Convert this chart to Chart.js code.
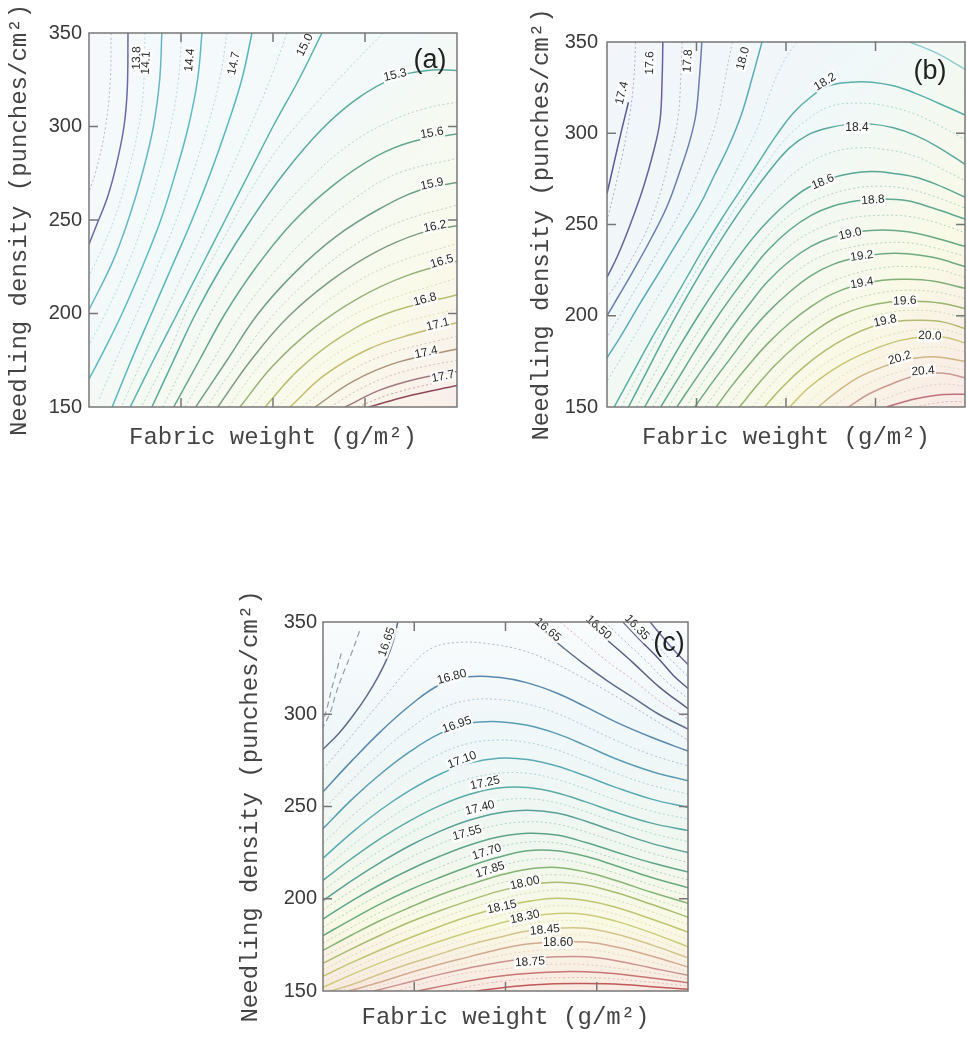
<!DOCTYPE html>
<html>
<head>
<meta charset="utf-8">
<script src="https://cdn.jsdelivr.net/npm/chart.js@4.4.1/dist/chart.umd.min.js"></script>
<style>
  html, body { margin: 0; padding: 0; background: #fff; }
  body { width: 967px; height: 1039px; position: relative; overflow: hidden; }
  canvas { position: absolute; }
</style>
</head>
<body>
<canvas id="ca" width="480" height="460" style="left:0;top:0"></canvas>
<canvas id="cb" width="477" height="460" style="left:490px;top:0"></canvas>
<canvas id="cc" width="480" height="469" style="left:220px;top:570px"></canvas>
<script>
// x = fabric weight, as % of the plotted range (no tick values shown)
// y = needling density (punches/cm2)
var X_TITLE = 'Fabric weight (g/m\u00b2)';
var Y_TITLE = 'Needling density (punches/cm\u00b2)';

// ---- panel (a) ----
var aLevels = [13.8, 14.1, 14.4, 14.7, 15.0, 15.3, 15.6, 15.9, 16.2, 16.5, 16.8, 17.1, 17.4, 17.7, 18.0];
var aLines = [
  [[10.6,350],[10.4,320],[9.5,300],[7.5,280],[5,262],[2.2,248],[0,237]],
  [[19.8,350],[19.2,325],[17.5,300],[14.5,275],[11,252],[6.5,228],[0,202]],
  [[30.7,350],[29.5,325],[27,300],[23.5,275],[19.5,250],[14.5,225],[9,200],[3.5,178],[0,165]],
  [[44.3,350],[41.5,325],[37.5,300],[33,275],[28,250],[22.5,225],[17,200],[11.5,175],[6.3,150]],
  [[63.3,350],[57,325],[50,300],[43.5,275],[37,250],[30.5,225],[24,200],[17.5,175],[11.2,150]],
  [[17.1,150],[23,175],[29,200],[36,225],[44,250],[53,275],[63,298],[73,315],[83,326],[92,330],[100,330]],
  [[23,150],[30,175],[37,200],[45.5,225],[55,248],[66,268],[78,284],[88,292],[100,296]],
  [[29,150],[37.5,175],[46,200],[56,222],[67,241],[79,256],[90,266],[100,270]],
  [[35,150],[44,175],[54,198],[66,218],[78,233],[90,243],[100,247]],
  [[41,150],[50,172],[61,192],[73,208],[86,220],[100,228]],
  [[47.8,150],[57,170],[68,187],[81,200],[100,210]],
  [[54.6,150],[64,167],[76,181],[88,189],[100,195]],
  [[61.4,150],[72,164],[84,174],[100,181]],
  [[69.6,150],[79,159],[89,165],[100,169]],
  [[76,150],[87,156],[100,161.5]]
];
// faint dotted intermediate contours of (a)
var aMinor = [
  [[6,350],[5.8,325],[4.5,300],[2,277],[0,265]],
  [[15.2,350],[14.8,320],[13.5,300],[11,278],[8,257],[4.3,238],[0,220]],
  [[25.2,350],[24.3,325],[22.2,300],[19,275],[15.2,251],[10.5,226],[4.5,200],[0,183]],
  [[37.5,350],[35.5,325],[32.2,300],[28.2,275],[23.7,250],[18.5,225],[13,200],[7.5,176],[2.5,153]],
  [[53.8,350],[49.2,325],[43.8,300],[38.2,275],[32.5,250],[26.5,225],[20.5,200],[14.5,175],[8.8,150]],
  [[80,350],[72,334],[62,313],[52,290],[44,266],[36,238],[28,208],[21,176],[14.2,150]],
  [[20,150],[26.5,175],[33,200],[40.7,225],[49.5,249],[59.5,271],[70.5,290],[82,303],[92,310],[100,313]],
  [[26,150],[33.7,175],[41.5,200],[50.7,223],[61,244],[72.5,262],[84,275],[100,283]],
  [[32,150],[40.7,175],[50,199],[61,220],[72.5,237],[84.5,249],[100,258]],
  [[38,150],[47,174],[57.5,195],[69.5,213],[82,226],[100,237.5]],
  [[44.4,150],[53.5,171],[64.5,190],[77,204],[100,219]],
  [[51.2,150],[60.5,168.5],[72,184],[84.5,194.5],[100,202.5]],
  [[58,150],[68,165.5],[80,177.5],[100,188]],
  [[65.5,150],[75.5,161.5],[86.5,169.5],[100,175]],
  [[73,150],[83,157.5],[100,165.3]]
];
var aLabelText = ['13.8','14.1','14.4','14.7','15.0','15.3','15.6','15.9','16.2','16.5','16.8','17.1','17.4','17.7'];
var aLabelX = [13, 15.5, 27.4, 39.4, 58.7, 83.2, 93.2, 93.2, 94, 95.9, 91.3, 94.8, 91.6, 96.2];
var aLabelY = [336.6, 334, 335.5, 333.7, 343.6, 327.5, 296.5, 269.2, 246.5, 227.8, 207.5, 194.1, 179.1, 166.3];
var aColors = ['#6a68a8','#66b6c8','#5cbac4','#58b6bc','#5ab2ae','#5aaa9e','#66a690','#72a086','#7c9c80',
               '#96b278','#b6be70','#c6bc70','#a8907a','#a07a80','#904858'];

// ---- panel (b) ----
var bLevels = [17.4, 17.6, 17.8, 18.0, 18.2, 18.4, 18.6, 18.8, 19.0, 19.2, 19.4, 19.6, 19.8, 20.0, 20.2, 20.4, 20.6, 18.0];
var bLines = [
  [[0,267],[2,284],[4,301],[6,317]],
  [[15.6,350],[15.4,330],[14.8,307],[13,290],[10.1,270],[6.5,250],[3,233],[0,221]],
  [[26.5,350],[25.8,330],[24.8,310],[23,295],[20.5,280],[17,261],[12.5,243],[7.3,224.5],[3,210],[0,200]],
  [[43.3,350],[40.5,330],[37.5,310],[34,293],[30,277],[26,261],[20.5,243],[14.8,224.5],[9,206],[3.6,188],[0,177]],
  [[2,150],[7,168],[12,186],[17,203],[22,220],[27,237],[32,253],[37,268],[42,283],[47,298],[52,311],[57,320],[62,326],[68,328],[74,328],[80,326],[86,322],[92,317],[100,310]],
  [[6,150],[11,169],[16,188],[21,206],[26,223],[31,239],[36,254],[41,268],[46,281],[51,292],[56,299],[62,303],[68,305],[74,305],[80,303],[86,299],[92,293],[100,283]],
  [[10.5,150],[15.5,167],[20.5,184],[25.5,200],[30.5,215],[35.5,229],[40.5,242],[45.5,253],[51,263],[56,270],[62,275],[68,278],[74,279],[80,278],[86,276],[92,272],[100,265]],
  [[15,150],[20,166],[25,182],[30,197],[35,211],[40,224],[45,236],[51,247],[57,255],[63,260],[70,263],[77,264],[84,263],[91,259],[100,253]],
  [[19.5,150],[25,166],[30,180],[35,194],[40,207],[45,219],[51,230],[57,238],[63,243],[70,246],[77,247],[84,246],[91,243],[100,238]],
  [[24.5,150],[30,165],[35,178],[40,191],[45,202],[51,213],[57,222],[63,228],[70,232],[77,234],[84,234],[91,232],[100,227]],
  [[30.5,150],[35,162],[40,174],[45,185],[51,196],[57,205],[63,212],[70,217],[77,219.5],[84,220],[91,219],[100,215]],
  [[37,150],[42,162],[47,173],[53,184],[59,193],[65,200],[72,205],[79,207.5],[86,208],[93,207],[100,204]],
  [[44,150],[49,161],[55,172],[61,181],[67,188],[74,194],[81,197],[88,197.5],[94,196.5],[100,193]],
  [[51,150],[56,160],[62,169],[68,176],[75,182],[82,186.5],[89,188.5],[95,188],[100,185]],
  [[59,150],[64,158],[70,166],[77,172],[84,176],[91,177.5],[100,175]],
  [[67.5,150],[73,157],[80,163],[87,167.5],[94,168.5],[100,166]],
  [[78,150],[85,154],[92,156.5],[100,157]],
  [[84.6,350],[92,344],[100,335]]
];
var bMinor = [
  [[8,350],[7.5,330],[6.5,312],[4.5,290],[2,268],[0,252]],
  [[21,350],[20.6,330],[19.8,308],[17.8,290],[15.3,270],[11.8,250],[8,235],[3.5,220],[0,210]],
  [[35,350],[33,330],[31,310],[28.5,294],[25.3,278],[21.5,261],[16.5,243],[11,224.5],[6,208],[0,188]],
  [[53,350],[49,338],[45.5,322],[42,303],[37.5,285],[32.5,266],[27,249],[21,231],[15,213],[9.5,195],[4,177],[0,164]],
  [[4,150],[9,168.5],[14,187],[19,204.5],[24,221.5],[29,238],[34,253.5],[39,268],[44,282],[49,295],[55,306],[62,314.5],[70,316.5],[78,315],[86,310.5],[93,304],[100,296.5]],
  [[8.2,150],[13.2,168],[18.2,186],[23.2,203],[28.2,219],[33.2,234],[38.2,248],[43.2,261],[49,272.5],[55,282],[62,289],[70,292],[78,291],[86,287.5],[93,281],[100,274]],
  [[12.8,150],[17.8,166.5],[22.8,183],[27.8,198.5],[32.8,213],[37.8,226.5],[42.8,239],[48,250],[54,259],[61,265.5],[68,269.5],[76,271],[84,269.5],[92,265],[100,259]],
  [[17.2,150],[22.5,166],[27.5,181],[32.5,195.5],[37.5,209],[42.5,221.5],[48,233],[54,242.5],[61,249.5],[68,253.5],[76,255],[84,254.5],[92,251],[100,245.5]],
  [[22,150],[27.5,165.5],[32.5,179],[37.5,192.5],[42.5,204.5],[48,216],[54,226],[61,233.5],[68,237.5],[76,239.8],[84,240],[92,237],[100,232.5]],
  [[27.5,150],[32.5,163.5],[37.5,176],[42.5,188],[48,199.5],[54,209],[61,217],[68,222.5],[76,226],[84,227],[92,225.5],[100,221]],
  [[33.7,150],[38.5,162],[43.5,173.5],[49,184.5],[55,194.5],[61,202.5],[68,208.5],[76,212.5],[84,214],[92,213],[100,209.5]],
  [[40.5,150],[45.5,161.5],[51,172.5],[57,182.5],[63,190.5],[70,197],[78,201.5],[86,203],[93,202],[100,198.5]],
  [[47.5,150],[52.5,160.5],[58.5,170.5],[65,178.5],[72,185],[80,190],[88,192.5],[95,192],[100,189]],
  [[55,150],[60,159],[66,167.5],[73,174.5],[80,179.5],[88,182.5],[95,182.5],[100,180]],
  [[63,150],[68.5,157.5],[75,164.5],[82,169.5],[90,172.5],[100,170.5]],
  [[72.5,150],[79,155.5],[86,160],[93,162.5],[100,161.5]],
  [[86,150],[93,152.5],[100,153]]
];
var bLabelText = ['17.4','17.6','17.8','18.0','18.2','18.4','18.6','18.8','19.0','19.2','19.4','19.6','19.8','20.0','20.2','20.4'];
var bLabelX = [4.2, 12, 22.6, 38, 60.9, 69.8, 60.3, 74.3, 67.9, 71.2, 71.2, 83.2, 77.7, 90.2, 81.8, 88.3];
var bLabelY = [322, 338.5, 339.6, 341, 328.1, 302.9, 273.3, 263.4, 244.8, 232.7, 217.9, 208.1, 197.1, 188.9, 176.8, 169.7];
var bColors = ['#5a5898','#62649e','#6a7eb0','#5aaab8','#5ab0a8','#5aa89c','#5aa694','#60a88e','#68a886',
               '#70aa80','#82ae78','#98b470','#b2bc70','#c8c472','#d0b482','#c89a90','#c0707a','#90cccc'];

// ---- panel (c) ----
var cLevels = [16.65, 16.80, 16.95, 17.10, 17.25, 17.40, 17.55, 17.70, 17.85, 18.00, 18.15, 18.30, 18.45,
               18.60, 18.75, 18.90, 19.05, 16.65, 16.50, 16.35, 16.20];
var cLines = [
  [[20.5,350],[19.3,340],[17.5,330],[15,320],[12,310],[8.5,300],[4.5,290],[0,281]],
  [[0,258],[8,275],[16,291],[24,305],[32,316],[40,320.3],[48,320],[56,317],[64,311.5],[72,304],[80,296],[90,287.5],[100,280]],
  [[0,238],[8,254],[16,268],[24,280],[32,289.5],[40,295],[48,296],[56,294],[64,289.5],[72,283],[80,276],[90,269],[100,264]],
  [[0,222],[8,236],[16,248.5],[24,259],[32,267.5],[40,273.5],[48,276.2],[56,275.5],[64,272],[72,266.5],[80,260.5],[90,254],[100,249.5]],
  [[0,210],[8,222],[16,233],[24,242.5],[32,250.5],[40,256.5],[48,260],[56,260.3],[64,257.5],[72,252.5],[80,247],[90,241],[100,237]],
  [[0,199],[8,210],[16,220],[24,229],[32,236.5],[40,242.5],[48,246.5],[56,248],[64,246.5],[72,242],[80,236.5],[90,230],[100,225]],
  [[0,189],[8,199],[16,208],[24,216],[32,223],[40,229],[48,233.5],[56,235.5],[64,234.5],[72,230.5],[80,225.5],[90,219.5],[100,214.5]],
  [[0,180],[8,189],[16,197.5],[24,205],[32,211.5],[40,217.5],[48,222.5],[56,226],[64,226],[72,223],[80,218],[90,211.5],[100,206]],
  [[0,172],[8,180.5],[16,188.5],[24,195.5],[32,202],[40,207.5],[48,212.5],[56,216],[64,217],[72,214.5],[80,210],[90,203.5],[100,197.5]],
  [[0,165],[8,173],[16,180.5],[24,187.5],[32,193.5],[40,199],[48,204],[56,207.5],[64,209],[72,207.5],[80,203.5],[90,197],[100,190]],
  [[0,158],[8,165.5],[16,172.5],[24,179],[32,185],[40,190.5],[48,195],[56,198.5],[64,200.3],[72,199],[80,195.5],[90,189],[100,182]],
  [[0,152],[8,159],[16,165.5],[24,171.5],[32,177],[40,182],[48,186.5],[56,190],[64,192],[72,191.5],[80,188],[90,181.5],[100,174]],
  [[2,150],[8,153.5],[16,159.5],[24,165],[32,170],[40,175],[48,179],[56,182.5],[64,184],[72,184],[80,181],[90,175],[100,168]],
  [[7,150],[16,155],[24,160],[32,164.5],[40,168.5],[48,172.5],[56,175.5],[64,176.5],[72,176.5],[80,174],[90,169],[100,163]],
  [[14,150],[24,155],[32,159],[40,162.5],[48,165.5],[56,167.5],[64,168.5],[72,168.5],[80,166.5],[90,162.5],[100,158.5]],
  [[26,150],[36,154],[46,157.5],[56,159.5],[66,160.5],[76,160],[86,158],[100,154.5]],
  [[42,150],[52,152.5],[62,153.8],[72,154],[82,153.5],[92,152],[100,151]],
  [[57.5,350],[64,339],[71,328],[78,318],[85,309],[92,300],[100,292]],
  [[72.3,350],[78,340],[84.9,328],[92,315],[100,303]],
  [[82.2,350],[87,340],[92,330],[96,321],[100,314]],
  [[89.6,350],[93,342],[96.5,334],[100,327]]
];
var cMinor = [
  [[0,270],[6,284],[12,298],[18,312],[24,326],[30,336],[38,339],[46,338],[54,335],[62,329],[70,321],[80,310],[90,298],[100,286]],
  [[0,248],[8,264.5],[16,279.5],[24,292.5],[32,302.7],[40,307.6],[48,308],[56,305.5],[64,300.5],[72,293.5],[80,286],[90,278],[100,272]],
  [[0,230],[8,245],[16,258],[24,269.5],[32,278.5],[40,284.2],[48,286],[56,284.7],[64,280.7],[72,274.7],[80,268.2],[90,261.5],[100,256.7]],
  [[0,216],[8,229],[16,240.7],[24,250.7],[32,259],[40,265],[48,268],[56,268],[64,264.7],[72,259.5],[80,253.7],[90,247.5],[100,243.2]],
  [[0,204.5],[8,216],[16,226.5],[24,235.7],[32,243.5],[40,249.5],[48,253.2],[56,254.2],[64,252],[72,247.2],[80,241.7],[90,235.5],[100,231]],
  [[0,194],[8,204.5],[16,214],[24,222.5],[32,229.7],[40,235.7],[48,240],[56,241.7],[64,240.5],[72,236.2],[80,231],[90,224.7],[100,219.7]],
  [[0,184.5],[8,194],[16,202.7],[24,210.5],[32,217.2],[40,223.2],[48,228],[56,230.7],[64,230.2],[72,226.7],[80,221.7],[90,215.5],[100,210.2]],
  [[0,176],[8,184.7],[16,193],[24,200.2],[32,206.7],[40,212.5],[48,217.5],[56,221],[64,221.5],[72,218.7],[80,214],[90,207.5],[100,201.7]],
  [[0,168.5],[8,176.7],[16,184.5],[24,191.5],[32,197.7],[40,203.2],[48,208.2],[56,211.7],[64,213],[72,211],[80,206.7],[90,200.2],[100,193.7]],
  [[0,161.5],[8,169.2],[16,176.5],[24,183.2],[32,189.2],[40,194.7],[48,199.5],[56,203],[64,204.7],[72,203.2],[80,199.5],[90,193],[100,186]],
  [[0,155],[8,162.2],[16,169],[24,175.2],[32,181],[40,186.2],[48,190.7],[56,194.2],[64,196.2],[72,195.2],[80,191.7],[90,185.2],[100,178]],
  [[0.5,150],[8,156.2],[16,162.5],[24,168.2],[32,173.5],[40,178.5],[48,182.7],[56,186.2],[64,188],[72,187.7],[80,184.5],[90,178.2],[100,171]],
  [[4.5,150],[16,157.2],[24,162.5],[32,167.2],[40,171.7],[48,175.7],[56,179],[64,180.2],[72,180.2],[80,177.5],[90,172],[100,165.5]],
  [[10.5,150],[24,157.5],[32,161.7],[40,165.5],[48,169],[56,171.5],[64,172.5],[72,172.5],[80,170.2],[90,165.7],[100,160.7]],
  [[20,150],[32,156.5],[40,160],[48,161.5],[56,163.5],[64,164.5],[72,164.3],[80,162.5],[90,160],[100,156.5]],
  [[34,150],[46,154.5],[56,156.5],[66,157.2],[76,157],[86,155.5],[100,152.7]],
  [[65,350],[71,340],[78,328.5],[85,318.5],[92,307.5],[100,297.5]],
  [[77.3,350],[82.5,340],[88.5,329],[94,318],[100,308.5]],
  [[86,350],[90,341],[94,332],[100,320.5]]
];
var cDashed = [
  [[10,345],[8,334],[5.5,322],[3.5,311],[2,301],[0,293]],
  [[5,333],[3.8,324],[2.4,314],[1.2,304],[0,296]]
];
var cLabelText = ['16.65','16.80','16.95','17.10','17.25','17.40','17.55','17.70','17.85','18.00','18.15','18.30',
                  '18.45','18.60','18.75','16.65','16.50','16.35'];
var cLabelX = [17.5, 35.3, 36.7, 38.1, 44.4, 43, 39.5, 44.9, 45.8, 55.3, 49, 55.3, 60.8, 64.4, 56.7, 61.6, 75.5, 86];
var cLabelY = [339.2, 320.2, 294.2, 275.2, 262.7, 249.2, 235.6, 225.3, 215.6, 208.5, 195.5, 190.1, 183.1, 176,
               165.7, 345.7, 347, 347];
var cColors = ['#5d6c8a','#5a88ad','#5a9cb4','#5aaab4','#5aaaa4','#5aa096','#5ea48a','#68aa7e','#86b474','#a8bc70',
               '#c0c470','#cccc7a','#d2c48a','#d2aa8e','#cc9290','#c87474','#c05858','#5e6e88','#5a5e82','#5c5a88','#6c6aa0'];

// decoration per canvas (labels, tint, panel tag)
var deco = {
  ca: { text: aLabelText, lx: aLabelX, ly: aLabelY, tag: '(a)', tagDx: -27, tagDy: 28, vertical: false,
        tint: [[0,'#f6f9fc'],[0.45,'#f3f9f8'],[0.78,'#f9faea'],[1,'#f9eeea']] },
  cb: { text: bLabelText, lx: bLabelX, ly: bLabelY, tag: '(b)', tagDx: -35, tagDy: 30, vertical: false,
        tint: [[0,'#f3f5fb'],[0.4,'#f0f8f8'],[0.75,'#f9f9e6'],[1,'#f9e9e5']] },
  cc: { text: cLabelText, lx: cLabelX, ly: cLabelY, tag: '(c)', tagDx: -19, tagDy: 22, vertical: true,
        tint: [[0,'#f9fbfc'],[0.3,'#eff7f9'],[0.6,'#f0f7f0'],[0.82,'#f9f9e4'],[1,'#f9e9e2']] }
};

function lighten(hex, f) {
  var n = parseInt(hex.slice(1), 16);
  var r = (n >> 16) & 255, g = (n >> 8) & 255, b = n & 255;
  return 'rgb(' + Math.round(r + (255 - r) * f) + ',' + Math.round(g + (255 - g) * f) + ',' +
         Math.round(b + (255 - b) * f) + ')';
}

function tangentAt(chart, level, px, py) {
  var xs = chart.scales.x, ys = chart.scales.y;
  var best = 0, bd = Infinity;
  chart.data.datasets.forEach(function(ds) {
    if (ds.level === undefined || Math.abs(ds.level - level) > 0.001) return;
    for (var i = 0; i < ds.data.length - 1; i++) {
      var x0 = xs.getPixelForValue(ds.data[i].x), y0 = ys.getPixelForValue(ds.data[i].y);
      var x1 = xs.getPixelForValue(ds.data[i + 1].x), y1 = ys.getPixelForValue(ds.data[i + 1].y);
      var d = Math.hypot((x0 + x1) / 2 - px, (y0 + y1) / 2 - py);
      if (d < bd) { bd = d; best = Math.atan2(y1 - y0, x1 - x0); }
    }
  });
  if (best > Math.PI / 2) best -= Math.PI;
  if (best <= -Math.PI / 2) best += Math.PI;
  return best;
}

var contourDeco = {
  id: 'contourDeco',
  beforeDatasetsDraw: function(chart) {
    var o = deco[chart.canvas.id], ctx = chart.ctx, a = chart.chartArea;
    var g = o.vertical ? ctx.createLinearGradient(0, a.top, 0, a.bottom)
                       : ctx.createLinearGradient(a.left, a.top, a.right, a.bottom);
    o.tint.forEach(function(s) { g.addColorStop(s[0], s[1]); });
    ctx.save();
    ctx.fillStyle = g;
    ctx.fillRect(a.left, a.top, a.right - a.left, a.bottom - a.top);
    ctx.restore();
  },
  afterDatasetsDraw: function(chart) {
    var o = deco[chart.canvas.id], ctx = chart.ctx, a = chart.chartArea;
    var xs = chart.scales.x, ys = chart.scales.y;
    ctx.save();
    // contour labels
    ctx.font = '12px "Liberation Sans", Arial, sans-serif';
    ctx.textAlign = 'center';
    ctx.textBaseline = 'middle';
    o.text.forEach(function(t, i) {
      var px = xs.getPixelForValue(o.lx[i]), py = ys.getPixelForValue(o.ly[i]);
      var ang = tangentAt(chart, parseFloat(t), px, py);
      var w = ctx.measureText(t).width;
      ctx.save();
      ctx.translate(px, py);
      ctx.rotate(ang);
      ctx.fillStyle = 'rgba(255,255,255,0.85)';
      ctx.fillRect(-w / 2 - 1, -6, w + 2, 12);
      ctx.fillStyle = '#2b2b2b';
      ctx.fillText(t, 0, 0);
      ctx.restore();
    });
    // frame and inward ticks
    ctx.strokeStyle = '#777';
    ctx.lineWidth = 1.5;
    ctx.strokeRect(a.left, a.top, a.right - a.left, a.bottom - a.top);
    var tl = 9;
    ctx.beginPath();
    xs.ticks.forEach(function(t) {
      if (t.value <= xs.min || t.value >= xs.max) return;
      var p = xs.getPixelForValue(t.value);
      ctx.moveTo(p, a.bottom); ctx.lineTo(p, a.bottom - tl);
      ctx.moveTo(p, a.top); ctx.lineTo(p, a.top + tl);
    });
    ys.ticks.forEach(function(t) {
      if (t.value <= ys.min || t.value >= ys.max) return;
      var p = ys.getPixelForValue(t.value);
      ctx.moveTo(a.left, p); ctx.lineTo(a.left + tl, p);
      ctx.moveTo(a.right, p); ctx.lineTo(a.right - tl, p);
    });
    ctx.stroke();
    // panel tag
    ctx.font = '27px "Liberation Sans", Arial, sans-serif';
    ctx.fillStyle = '#222';
    ctx.fillText(o.tag, a.right + o.tagDx, a.top + o.tagDy);
    ctx.restore();
  }
};

function toPoints(pts) {
  return pts.map(function(p) { return { x: p[0], y: p[1] }; });
}

function contourSets(lines, levels, colors) {
  return lines.map(function(pts, i) {
    return {
      level: levels[i], data: toPoints(pts),
      showLine: true, pointRadius: 0, borderColor: colors[i], borderWidth: 1.5,
      tension: 0.4, fill: false, order: 1
    };
  });
}

function minorSets(lines, colors) {
  return lines.map(function(pts, i) {
    var c = colors[Math.min(i, colors.length - 1)];
    return {
      data: toPoints(pts),
      showLine: true, pointRadius: 0, borderColor: lighten(c, 0.5), borderWidth: 1,
      borderDash: [2, 2.5], tension: 0.4, fill: false, order: 2
    };
  });
}

function dashedSets(lines) {
  return lines.map(function(pts) {
    return {
      data: toPoints(pts),
      showLine: true, pointRadius: 0, borderColor: '#9a9aa8', borderWidth: 1.2,
      borderDash: [6, 4], tension: 0.4, fill: false, order: 2
    };
  });
}

function makeChart(id, sets, cfg) {
  var titleFont = { family: '"Liberation Mono", "Courier New", monospace', size: 24 };
  return new Chart(document.getElementById(id), {
    type: 'scatter',
    data: { datasets: sets },
    options: {
      responsive: false,
      animation: false,
      events: [],
      layout: { padding: cfg.pad },
      plugins: { legend: { display: false }, tooltip: { enabled: false } },
      scales: {
        x: {
          type: 'linear', min: 0, max: 100,
          ticks: { display: false, stepSize: 25 },
          grid: { display: false, drawTicks: false },
          border: { display: false },
          title: { display: true, text: X_TITLE, font: titleFont, color: '#444',
                   padding: { top: 0, bottom: cfg.xTitlePad } },
          afterFit: function(s) { s.height = cfg.xH; }
        },
        y: {
          type: 'linear', min: 150, max: 350,
          ticks: { stepSize: 50, padding: cfg.yTickPad, color: '#3a3a3a',
                   font: { family: '"Liberation Sans", Arial, sans-serif', size: 20 } },
          grid: { display: false, drawTicks: false },
          border: { display: false },
          title: { display: true, text: Y_TITLE, font: titleFont, color: '#444',
                   padding: { top: cfg.yTitlePad, bottom: 0 } },
          afterFit: function(s) { s.width = cfg.yW; }
        }
      }
    },
    plugins: [contourDeco]
  });
}

makeChart('ca', minorSets(aMinor, aColors).concat(contourSets(aLines, aLevels, aColors)),
  { pad: { left: 0, top: 33, right: 23, bottom: 0 }, yW: 89, xH: 53, yTickPad: 7, yTitlePad: 5.6, xTitlePad: 7.6 });
makeChart('cb', minorSets(bMinor, bColors).concat(contourSets(bLines, bLevels, bColors)),
  { pad: { left: 0, top: 42, right: 2, bottom: 0 }, yW: 117, xH: 53, yTickPad: 9, yTitlePad: 37.6, xTitlePad: 7.6 });
makeChart('cc', minorSets(cMinor, cColors).concat(dashedSets(cDashed), contourSets(cLines, cLevels, cColors)),
  { pad: { left: 0, top: 52, right: 12, bottom: 0 }, yW: 103, xH: 48, yTickPad: 6, yTitlePad: 16.6, xTitlePad: 6.6 });
</script>
</body>
</html>
